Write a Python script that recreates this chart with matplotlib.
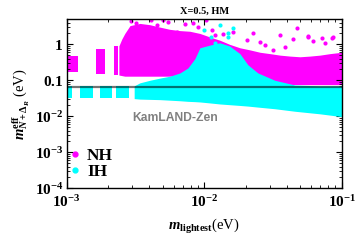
import matplotlib
matplotlib.use("Agg")
import matplotlib.pyplot as plt
from matplotlib.lines import Line2D

plt.rcParams['mathtext.fontset'] = 'custom'
plt.rcParams['mathtext.rm'] = 'Liberation Serif:bold'
plt.rcParams['mathtext.bf'] = 'Liberation Serif:bold'
plt.rcParams['mathtext.it'] = 'Liberation Serif:bold:italic'
plt.rcParams['font.family'] = ['Liberation Serif', 'DejaVu Sans']
plt.rcParams['font.weight'] = 'bold'

# ---- data ----
# NH isolated vertical bands: (x_start, x_end, y_low, y_high)
nh_band_x0 = [1.0e-3, 1.63e-3, 2.2e-3]
nh_band_x1 = [1.22e-3, 1.89e-3, 2.38e-3]
nh_band_lo = [0.17, 0.15, 0.14]
nh_band_hi = [0.47, 0.73, 0.9]

# NH main region
nh_x = [2.40e-3, 2.52e-3, 2.65e-3, 2.89e-3, 3.41e-3, 4.03e-3, 4.77e-3, 5.64e-3,
        6.67e-3, 7.88e-3, 9.32e-3, 0.011, 0.013, 0.0153, 0.0182, 0.0215, 0.0255,
        0.0301, 0.0356, 0.0421, 0.0497, 0.0588, 0.0696, 0.0822, 0.1]
nh_hi = [0.9, 1.4, 2.0, 3.3, 3.8, 3.5, 3.0, 2.6, 2.4, 2.3, 2.0, 1.6, 1.3, 1.0,
         0.8, 0.7, 0.6, 0.55, 0.5, 0.47, 0.45, 0.47, 0.5, 0.55, 0.6]
nh_lo = [0.14, 0.135, 0.13, 0.13, 0.13, 0.13, 0.13, 0.13, 0.13, 0.13, 0.12,
         0.11, 0.105, 0.1, 0.095, 0.09, 0.085, 0.08, 0.077, 0.076, 0.076,
         0.076, 0.076, 0.076, 0.076]

# NH scattered outliers
nh_out_x = [3.19e-3, 3.61e-3, 4.51e-3, 5.05e-3, 6.31e-3, 8.34e-3, 0.0104, 0.01135,
            0.012, 0.0163, 0.0228, 0.0255, 0.0356, 0.0445, 0.0572, 0.0621, 0.0869,
            0.0757, 0.0318, 0.0204, 0.0475, 0.0723, 0.0855, 0.0566, 0.0278, 0.039,
            2.95e-3, 4.1e-3, 5.5e-3, 7.2e-3, 9.0e-3, 0.0138]
nh_out_y = [3.97, 3.07, 3.43, 4.7, 2.23, 3.8, 4.7, 2.49, 1.81, 2.23, 2.02, 1.18,
            1.81, 1.37, 1.62, 1.26, 1.62, 1.07, 0.7, 1.32, 2.88, 1.52, 1.47,
            1.73, 0.95, 0.85, 4.4, 4.6, 4.2, 3.6, 3.1, 1.9]

# IH isolated blocks below the line
ih_band_x0 = [1.0e-3, 1.256e-3, 1.753e-3, 2.30e-3]
ih_band_x1 = [1.093e-3, 1.545e-3, 2.13e-3, 2.85e-3]
ih_band_lo = [0.032, 0.032, 0.032, 0.032]
ih_band_hi = [0.07, 0.07, 0.07, 0.07]

# IH main region
ih_x = [3.10e-3, 3.41e-3, 4.03e-3, 4.77e-3, 5.64e-3, 6.67e-3, 7.62e-3, 8.57e-3,
        9.32e-3, 0.011, 0.013, 0.0153, 0.0182, 0.0208, 0.0246, 0.0327, 0.0457,
        0.0696, 0.1]
ih_hi = [0.07, 0.085, 0.1, 0.115, 0.13, 0.16, 0.22, 0.4, 0.8, 0.95, 1.1, 0.9,
         0.55, 0.27, 0.16, 0.1, 0.074, 0.07, 0.07]
ih_lo = [0.031, 0.030, 0.0295, 0.029, 0.028, 0.027, 0.026, 0.0255, 0.025, 0.0235,
         0.022, 0.021, 0.020, 0.0192, 0.018, 0.0162, 0.0138, 0.0117, 0.0098]

# IH scattered outliers
ih_out_x = [0.013, 0.0099, 0.015, 0.0163, 0.012, 0.0148, 0.0132, 0.0112]
ih_out_y = [3.43, 2.49, 1.62, 2.77, 1.09, 2.1, 0.86, 1.6]

kamland_limit = 0.066

x_ticks = [1e-3, 1e-2, 1e-1]
x_ticklabels = [r'$10^{-3}$', r'$10^{-2}$', r'$10^{-1}$']
y_ticks = [1e-4, 1e-3, 1e-2, 0.1, 1]
y_ticklabels = [r'$10^{-4}$', r'$10^{-3}$', r'$10^{-2}$', r'$0.1$', r'$1$']

MAG = '#ff00ff'
CYA = '#00ffff'

fig = plt.figure(figsize=(3.6, 2.4), dpi=100)
ax = fig.add_axes([0.185, 0.2154, 0.764, 0.7036])
ax.set_xscale('log')
ax.set_yscale('log')

for x0, x1, lo, hi in zip(nh_band_x0, nh_band_x1, nh_band_lo, nh_band_hi):
    ax.fill_between([x0, x1], [lo, lo], [hi, hi], color=MAG, lw=0, zorder=1)
ax.fill_between(nh_x, nh_lo, nh_hi, color=MAG, lw=0, zorder=1)
ax.scatter(nh_out_x, nh_out_y, s=9, color=MAG, lw=0, zorder=1)

for x0, x1, lo, hi in zip(ih_band_x0, ih_band_x1, ih_band_lo, ih_band_hi):
    ax.fill_between([x0, x1], [lo, lo], [hi, hi], color=CYA, lw=0, zorder=2)
ax.fill_between(ih_x, ih_lo, ih_hi, color=CYA, lw=0, zorder=2)
ax.scatter(ih_out_x, ih_out_y, s=9, color=CYA, lw=0, zorder=2)

ax.axhline(kamland_limit, color='black', alpha=0.55, lw=1.6, zorder=3)

ax.text(6.2e-3, 0.0088, 'KamLAND-Zen', family='Liberation Sans', weight='bold',
        fontsize=8.7, color='#808080', ha='center', va='center')

ax.set_xlim(1e-3, 0.1)
ax.set_ylim(1e-4, 4.9)
ax.set_xticks(x_ticks)
ax.set_xticklabels(x_ticklabels)
ax.set_yticks(y_ticks)
ax.set_yticklabels(y_ticklabels)
ax.tick_params(which='both', direction='in', top=True, right=True, labelsize=11)
ax.tick_params(axis='x', pad=4.5)
ax.tick_params(axis='y', pad=2.5)
ax.tick_params(which='major', length=4, width=0.8)
ax.tick_params(which='minor', length=2, width=0.6)
for sp in ax.spines.values():
    sp.set_linewidth(1.0)

ax.set_title('X=0.5, HM', fontsize=7.5, fontweight='bold', pad=4)
ax.set_xlabel(r'$m_{\mathrm{lightest}}$(eV)', fontsize=10.5, labelpad=5)
ax.set_ylabel(r'$m_{N+\Delta_R}^{\mathrm{eff}}$ (eV)', fontsize=10.5, labelpad=2)

handles = [Line2D([], [], ls='none', marker='o', ms=3.5, color=MAG),
           Line2D([], [], ls='none', marker='o', ms=3.5, color=CYA)]
ax.legend(handles, ['NH', 'IH'], loc='lower left', bbox_to_anchor=(0.005, 0.05),
          frameon=False, labelspacing=0.0, handletextpad=0.3,
          handlelength=0.8, borderpad=0.0, borderaxespad=0.0,
          prop={'family': 'Liberation Serif', 'weight': 'bold', 'size': 12.5})

fig.savefig('out.png', dpi=100)
